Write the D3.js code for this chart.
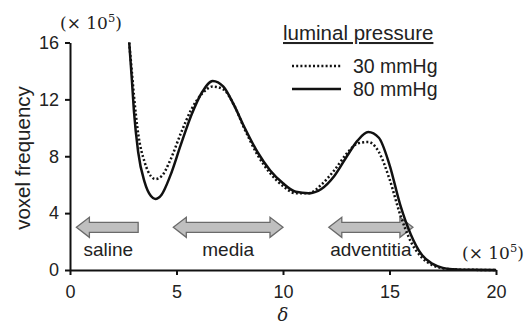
<!DOCTYPE html>
<html>
<head>
<meta charset="utf-8">
<script src="https://d3js.org/d3.v7.min.js"></script>
<style>
  body { margin: 0; background: #fff; }
  text { font-family: Arial, "Liberation Sans", sans-serif; fill: #222; }
</style>
</head>
<body>
<script>
// values in units of 1e5
var delta = [2.78, 2.9, 3.0, 3.2, 3.5, 3.8, 4.0, 4.3, 4.7, 5.2, 5.7, 6.2, 6.7, 7.2, 7.7, 8.2, 8.8, 9.4, 10.0, 10.6, 11.2, 11.8, 12.4, 13.0, 13.5, 14.0, 14.5, 15.0, 15.5, 16.0, 16.5, 17.0, 17.5, 18.0, 18.5, 19.0, 20.0];
var p80 = [16, 13.5, 11.2, 8.3, 6.2, 5.2, 5.0, 5.3, 6.6, 8.8, 10.9, 12.5, 13.3, 12.9, 11.6, 10.0, 8.3, 7.0, 6.1, 5.5, 5.4, 5.7, 6.6, 8.0, 9.1, 9.7, 9.3, 7.4, 4.6, 2.5, 1.1, 0.45, 0.15, 0.05, 0.02, 0.01, 0];
var p30 = [16, 14.0, 12.3, 9.6, 7.6, 6.6, 6.4, 6.6, 7.7, 9.6, 11.3, 12.4, 12.9, 12.7, 11.6, 9.9, 8.1, 6.8, 5.9, 5.4, 5.4, 6.0, 7.0, 8.2, 8.9, 9.0, 8.3, 6.4, 3.9, 2.0, 0.9, 0.35, 0.12, 0.04, 0.02, 0.01, 0];
var xTicks = [0, 5, 10, 15, 20];
var yTicks = [0, 4, 8, 12, 16];
var regions = [
  {name: "saline", from: 0.3, to: 3.2, left: true, right: false},
  {name: "media", from: 4.85, to: 10.0, left: true, right: true},
  {name: "adventitia", from: 12.15, to: 16.1, left: true, right: true}
];
var arrowY = 3.0;

var width = 526, height = 326;
var svg = d3.select('body').append('svg')
  .attr('width', width).attr('height', height);

var x = d3.scaleLinear().domain([0, 20]).range([70, 496]);
var y = d3.scaleLinear().domain([0, 16]).range([270, 42.5]);

// arrows
function arrowPath(r) {
  var x0 = x(r.from), x1 = x(r.to), yc = y(arrowY);
  var sh = 5, hh = 10, hl = 13;
  var a = r.left ? x0 + hl : x0, b = r.right ? x1 - hl : x1;
  var p = [];
  if (r.left) { p.push([x0, yc], [a, yc - hh], [a, yc - sh]); } else { p.push([x0, yc - sh]); }
  if (r.right) { p.push([b, yc - sh], [b, yc - hh], [x1, yc], [b, yc + hh], [b, yc + sh]); }
  else { p.push([x1, yc - sh], [x1, yc + sh]); }
  if (r.left) { p.push([a, yc + sh], [a, yc + hh]); } else { p.push([x0, yc + sh]); }
  return 'M' + p.map(function(d) { return d.join(','); }).join('L') + 'Z';
}
svg.append('g').selectAll('path').data(regions).enter().append('path')
  .attr('d', arrowPath)
  .attr('fill', '#bfbfbf').attr('stroke', '#6a6a6a').attr('stroke-width', 1.3);
svg.append('g').selectAll('text').data(regions).enter().append('text')
  .attr('x', function(d) { return x((d.from + d.to) / 2) + (d.name === 'saline' ? 1 : 0); })
  .attr('y', 256).attr('text-anchor', 'middle').attr('font-size', 19)
  .text(function(d) { return d.name; });

// axes
var gy = svg.append('g').attr('transform', 'translate(70,0)')
  .call(d3.axisLeft(y).tickValues(yTicks).tickSize(5).tickSizeOuter(0));
var gx = svg.append('g').attr('transform', 'translate(0,270)')
  .call(d3.axisBottom(x).tickValues(xTicks).tickSize(5).tickSizeOuter(0));
[gx, gy].forEach(function(g) {
  g.select('.domain').attr('stroke', '#111').attr('stroke-width', 2);
  g.selectAll('.tick line').attr('stroke', '#111').attr('stroke-width', 2);
  g.selectAll('.tick text').attr('font-size', 18).attr('font-family', 'Arial, "Liberation Sans", sans-serif').attr('fill', '#222');
});
gy.selectAll('.tick text').attr('x', -11);
gx.selectAll('.tick text').attr('y', 28).attr('dy', null);

// curves
var line = d3.line().curve(d3.curveMonotoneX)
  .x(function(d, i) { return x(delta[i]); })
  .y(function(d) { return y(d); });
svg.append('path').datum(p30).attr('d', line)
  .attr('fill', 'none').attr('stroke', '#111').attr('stroke-width', 2.5)
  .attr('stroke-dasharray', '2,2.2');
svg.append('path').datum(p80).attr('d', line)
  .attr('fill', 'none').attr('stroke', '#111').attr('stroke-width', 2.5);

// axis titles
svg.append('text').attr('transform', 'translate(30,158) rotate(-90)')
  .attr('text-anchor', 'middle').attr('font-size', 20.5).text('voxel frequency');
svg.append('text').attr('x', 283).attr('y', 321).attr('text-anchor', 'middle')
  .attr('font-size', 18).attr('font-style', 'italic')
  .style('font-family', '"DejaVu Serif", "Liberation Serif", serif').text('δ');

function scaleLabel(px, py) {
  var t = svg.append('text').attr('x', px).attr('y', py).attr('font-size', 17)
    .style('font-family', '"DejaVu Serif", "Liberation Serif", serif');
  t.append('tspan').text('(× 10');
  t.append('tspan').attr('dy', -7).attr('font-size', 11.5).text('5');
  t.append('tspan').attr('dy', 7).text(')');
}
scaleLabel(60, 29);
scaleLabel(462, 259);

// legend
svg.append('text').attr('x', 283).attr('y', 40).attr('font-size', 20.5)
  .attr('text-decoration', 'underline').text('luminal pressure');
var legend = [{label: '30 mmHg', dash: '2,2.2', ly: 66}, {label: '80 mmHg', dash: null, ly: 89}];
legend.forEach(function(d) {
  svg.append('line').attr('x1', 292).attr('x2', 341).attr('y1', d.ly).attr('y2', d.ly)
    .attr('stroke', '#111').attr('stroke-width', 2.5)
    .attr('stroke-dasharray', d.dash);
  svg.append('text').attr('x', 353).attr('y', d.ly + 7).attr('font-size', 19.5).text(d.label);
});
</script>
</body>
</html>
